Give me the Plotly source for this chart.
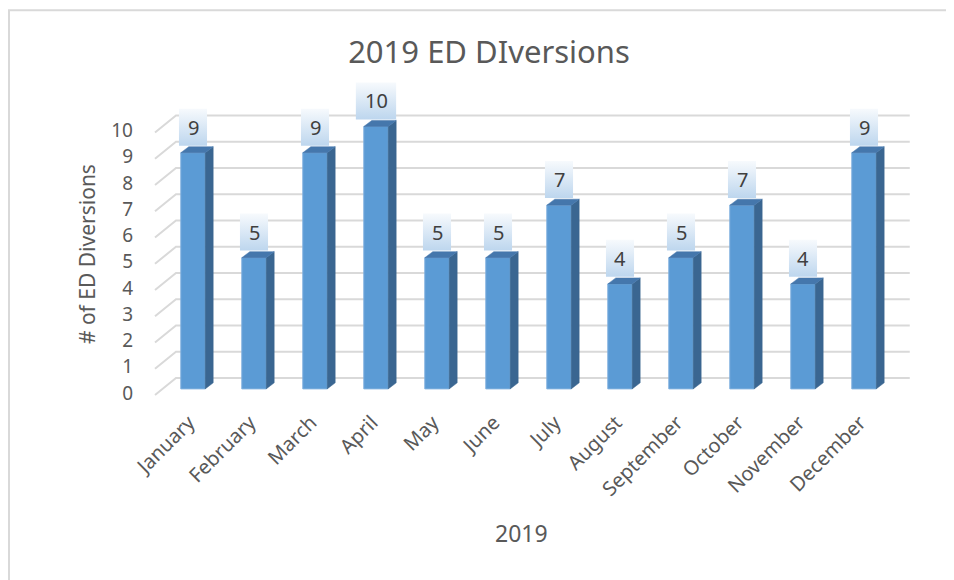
import plotly.graph_objects as go

months = ["January", "February", "March", "April", "May", "June", "July",
          "August", "September", "October", "November", "December"]
diversions = [9, 5, 9, 10, 5, 5, 7, 4, 5, 7, 4, 9]
y_ticks = list(range(0, 11))

title_text = "2019 ED DIversions"
x_title = "2019"
y_title = "# of ED Diversions"

# geometry (axis units)
BAR_W = 0.40
DX, DY = 0.131, 0.23          # 3D depth offset of the bars
BACK_DY = 0.415               # back wall offset
FRONT_X, BACK_X, WALL_END = -0.623, -0.279, 11.75
FRONT_DY = -0.23

FRONT = "#5B9BD5"
SIDE = "#3A6691"
TOP = "#4577AC"
GRID = "#D9D9D9"
TXT = "#595959"
FONT = "Noto Sans"

# page has an 8px body margin; figure occupies 8..954 x 8..580
OFF = 8
W, H = 954 - OFF, 580 - OFF
UNIT = 302 / 11.5            # px per value unit
Y_MIN, Y_MAX = -0.5, 12.8
PW = 770
PH = (Y_MAX - Y_MIN) * UNIT
BOTTOM_PAGE = 402
L = 150 - OFF
T = (BOTTOM_PAGE - OFF) - PH
R, B = W - L - PW, H - T - PH


def px_to_paper_x(px):
    return (px - OFF - L) / PW


def py_to_paper_y(py):
    return (T + PH - (py - OFF)) / PH


xs = list(range(len(months)))
fig = go.Figure()

shapes = []
# back wall gridlines with the slanted side-wall part (drawn beneath the bars)
for v in y_ticks:
    shapes.append(dict(type="path", xref="x", yref="y", layer="below",
                       path=f"M {FRONT_X},{v + FRONT_DY} L {BACK_X},{v + BACK_DY} L {WALL_END},{v + BACK_DY}",
                       line=dict(color=GRID, width=2)))

# front faces
fig.add_trace(go.Bar(x=xs, y=diversions, width=BAR_W,
                     marker=dict(color=FRONT, line=dict(color="#7FB0DE", width=1)),
                     showlegend=False, hoverinfo="skip"))

# side faces
sx, sy = [], []
for i, v in zip(xs, diversions):
    r = i + BAR_W / 2
    sx += [r, r + DX, r + DX, r, r, None]
    sy += [0, DY, v + DY, v, 0, None]
fig.add_trace(go.Scatter(x=sx, y=sy, mode="lines", fill="toself",
                         fillcolor=SIDE, line=dict(color=SIDE, width=0.5),
                         hoverinfo="skip", showlegend=False))

# top faces
tx, ty = [], []
for i, v in zip(xs, diversions):
    l, r = i - BAR_W / 2, i + BAR_W / 2
    tx += [l, l + DX, r + DX, r, l, None]
    ty += [v, v + DY, v + DY, v, v, None]
fig.add_trace(go.Scatter(x=tx, y=ty, mode="lines", fill="toself",
                         fillcolor=TOP, line=dict(color=TOP, width=0.5),
                         hoverinfo="skip", showlegend=False))

# data label boxes with gradient
BOX_GAP, BOX_H = 0.27, 1.41
for i, v in zip(xs, diversions):
    half = 0.23 if len(str(v)) == 1 else 0.33
    b = v + BOX_GAP
    t = b + BOX_H
    fig.add_trace(go.Scatter(
        x=[i - half, i + half, i + half, i - half, i - half],
        y=[b, b, t, t, b], mode="lines", fill="toself",
        line=dict(width=0, color="rgba(0,0,0,0)"),
        fillgradient=dict(type="vertical", start=b, stop=t,
                          colorscale=[[0, "#BDD6EE"], [1, "#F7FAFD"]]),
        hoverinfo="skip", showlegend=False))
    fig.add_annotation(x=i, y=(b + t) / 2, text=str(v), showarrow=False,
                       font=dict(family=FONT, size=20, color="#404040"))

# x-axis title (offset left of plot centre as in the original)
fig.add_annotation(xref="paper", yref="paper",
                   x=px_to_paper_x(521), y=py_to_paper_y(533),
                   xanchor="center", yanchor="middle",
                   text=x_title, showarrow=False,
                   font=dict(family=FONT, size=23, color=TXT))

# y-axis title
fig.add_annotation(xref="paper", yref="paper",
                   x=px_to_paper_x(87), y=py_to_paper_y(254),
                   xanchor="center", yanchor="middle", textangle=-90,
                   text=y_title, showarrow=False,
                   font=dict(family=FONT, size=21, color=TXT))

# chart border (left and top edges visible)
shapes.append(dict(type="rect", xref="paper", yref="paper",
                   x0=px_to_paper_x(9), x1=px_to_paper_x(990),
                   y0=py_to_paper_y(620), y1=py_to_paper_y(10),
                   line=dict(color="#D9D9D9", width=2), layer="below"))

fig.update_layout(
    width=W, height=H, autosize=False,
    margin=dict(l=L, r=R, t=T, b=B),
    paper_bgcolor="white", plot_bgcolor="white",
    title=dict(text=title_text, x=(489 - OFF) / W,
               xanchor="center", y=1 - (52 - OFF) / H, yanchor="middle",
               xref="container", yref="container",
               font=dict(family=FONT, size=31, color=TXT)),
    xaxis=dict(range=[-0.705, 11.918], tickvals=xs, ticktext=months,
               tickangle=-45, showgrid=False, zeroline=False, showline=False,
               ticks="", ticklabelstandoff=4, ticklabelshift=-4,
               tickfont=dict(family=FONT, size=20, color=TXT)),
    yaxis=dict(range=[Y_MIN, Y_MAX], tickvals=y_ticks, showgrid=False,
               zeroline=False, showline=False, ticks="",
               ticklabelstandoff=16, ticklabelshift=4,
               tickfont=dict(family=FONT, size=19, color=TXT)),
    shapes=shapes,
)

fig.write_html("out.html")
